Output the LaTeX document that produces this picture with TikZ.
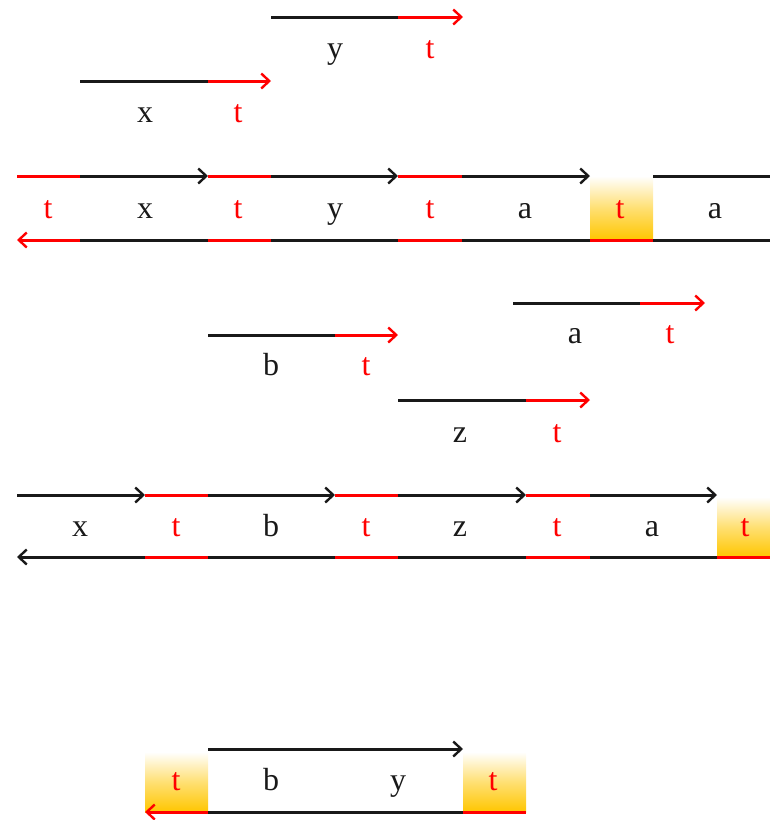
\documentclass[tikz,border=0pt]{standalone}
\usepackage{fontspec}
\setmainfont{Liberation Serif}
\usetikzlibrary{arrows.meta}
\definecolor{gold}{RGB}{255,198,0}
\definecolor{ink}{RGB}{25,25,25}
\begin{document}
\begin{tikzpicture}[x=1pt,y=-1pt,
  blk/.style={line width=3pt,draw=ink},
  rd/.style={line width=3pt,draw=red},
  tip/.style={-{Straight Barb[length=8pt,width=15pt,line width=2.4pt]}},
  ltip/.style={{Straight Barb[length=8pt,width=15pt,line width=2.4pt]}-},
  lab/.style={font=\fontsize{32}{32}\selectfont,text=ink,inner sep=0pt,anchor=base},
  rlab/.style={lab,text=red},
  glow/.style={top color=white,bottom color=gold,middle color=gold!55}]
\useasboundingbox (0,0) rectangle (770,820);
% ---------- top single strands ----------
\draw[blk] (271,17) -- (398,17);
\draw[rd,tip] (398,17) -- (463,17);
\node[lab] (ly1) at (335,58) {y};
\node[rlab] (lt1) at (430,58) {t};
\draw[blk] (80,81) -- (208,81);
\draw[rd,tip] (208,81) -- (271,81);
\node[lab] (lx1) at (145,122) {x};
\node[rlab] (lt2) at (238,122) {t};
% ---------- first duplex ----------
\shade[glow] (590,176) rectangle (653,240);
\draw[rd] (17,176) -- (80,176);
\draw[blk,tip] (80,176) -- (208,176);
\draw[rd] (208,176) -- (271,176);
\draw[blk,tip] (271,176) -- (398,176);
\draw[rd] (398,176) -- (462,176);
\draw[blk,tip] (462,176) -- (590,176);
\draw[blk] (653,176) -- (770,176);
\draw[rd,ltip] (17,240) -- (80,240);
\draw[blk] (80,240) -- (208,240);
\draw[rd] (208,240) -- (271,240);
\draw[blk] (271,240) -- (398,240);
\draw[rd] (398,240) -- (462,240);
\draw[blk] (462,240) -- (590,240);
\draw[rd] (590,240) -- (653,240);
\draw[blk] (653,240) -- (770,240);
\node[rlab] (d1) at (48,218) {t};
\node[lab]  (d2) at (145,218) {x};
\node[rlab] (d3) at (238,218) {t};
\node[lab]  (d4) at (335,218) {y};
\node[rlab] (d5) at (430,218) {t};
\node[lab]  (d6) at (525,218) {a};
\node[rlab] (d7) at (620,218) {t};
\node[lab]  (d8) at (715,218) {a};
% ---------- middle single strands ----------
\draw[blk] (513,303) -- (640,303);
\draw[rd,tip] (640,303) -- (705,303);
\node[lab] (la2) at (575,343) {a};
\node[rlab] (lt3) at (670,343) {t};
\draw[blk] (208,335) -- (335,335);
\draw[rd,tip] (335,335) -- (398,335);
\node[lab] (lb2) at (271,375) {b};
\node[rlab] (lt4) at (366,375) {t};
\draw[blk] (398,400) -- (526,400);
\draw[rd,tip] (526,400) -- (590,400);
\node[lab] (lz2) at (460,442) {z};
\node[rlab] (lt5) at (557,442) {t};
% ---------- second duplex ----------
\shade[glow] (717,497) rectangle (770,557);
\draw[blk,tip] (17,495) -- (145,495);
\draw[rd] (145,495) -- (208,495);
\draw[blk,tip] (208,495) -- (335,495);
\draw[rd] (335,495) -- (398,495);
\draw[blk,tip] (398,495) -- (526,495);
\draw[rd] (526,495) -- (590,495);
\draw[blk,tip] (590,495) -- (717,495);
\draw[blk,ltip] (17,557) -- (145,557);
\draw[rd] (145,557) -- (208,557);
\draw[blk] (208,557) -- (335,557);
\draw[rd] (335,557) -- (398,557);
\draw[blk] (398,557) -- (526,557);
\draw[rd] (526,557) -- (590,557);
\draw[blk] (590,557) -- (717,557);
\draw[rd] (717,557) -- (770,557);
\node[lab]  (e1) at (80,536) {x};
\node[rlab] (e2) at (176,536) {t};
\node[lab]  (e3) at (271,536) {b};
\node[rlab] (e4) at (366,536) {t};
\node[lab]  (e5) at (460,536) {z};
\node[rlab] (e6) at (557,536) {t};
\node[lab]  (e7) at (652,536) {a};
\node[rlab] (e8) at (745,536) {t};
% ---------- bottom product ----------
\shade[glow] (145,752) rectangle (208,812);
\shade[glow] (463,752) rectangle (526,812);
\draw[blk,tip] (208,749) -- (463,749);
\draw[rd,ltip] (145,812) -- (208,812);
\draw[blk] (208,812) -- (463,812);
\draw[rd] (463,812) -- (526,812);
\node[rlab] (f1) at (176,790) {t};
\node[lab]  (f2) at (271,790) {b};
\node[lab]  (f3) at (398,790) {y};
\node[rlab] (f4) at (493,790) {t};
\end{tikzpicture}
\end{document}
